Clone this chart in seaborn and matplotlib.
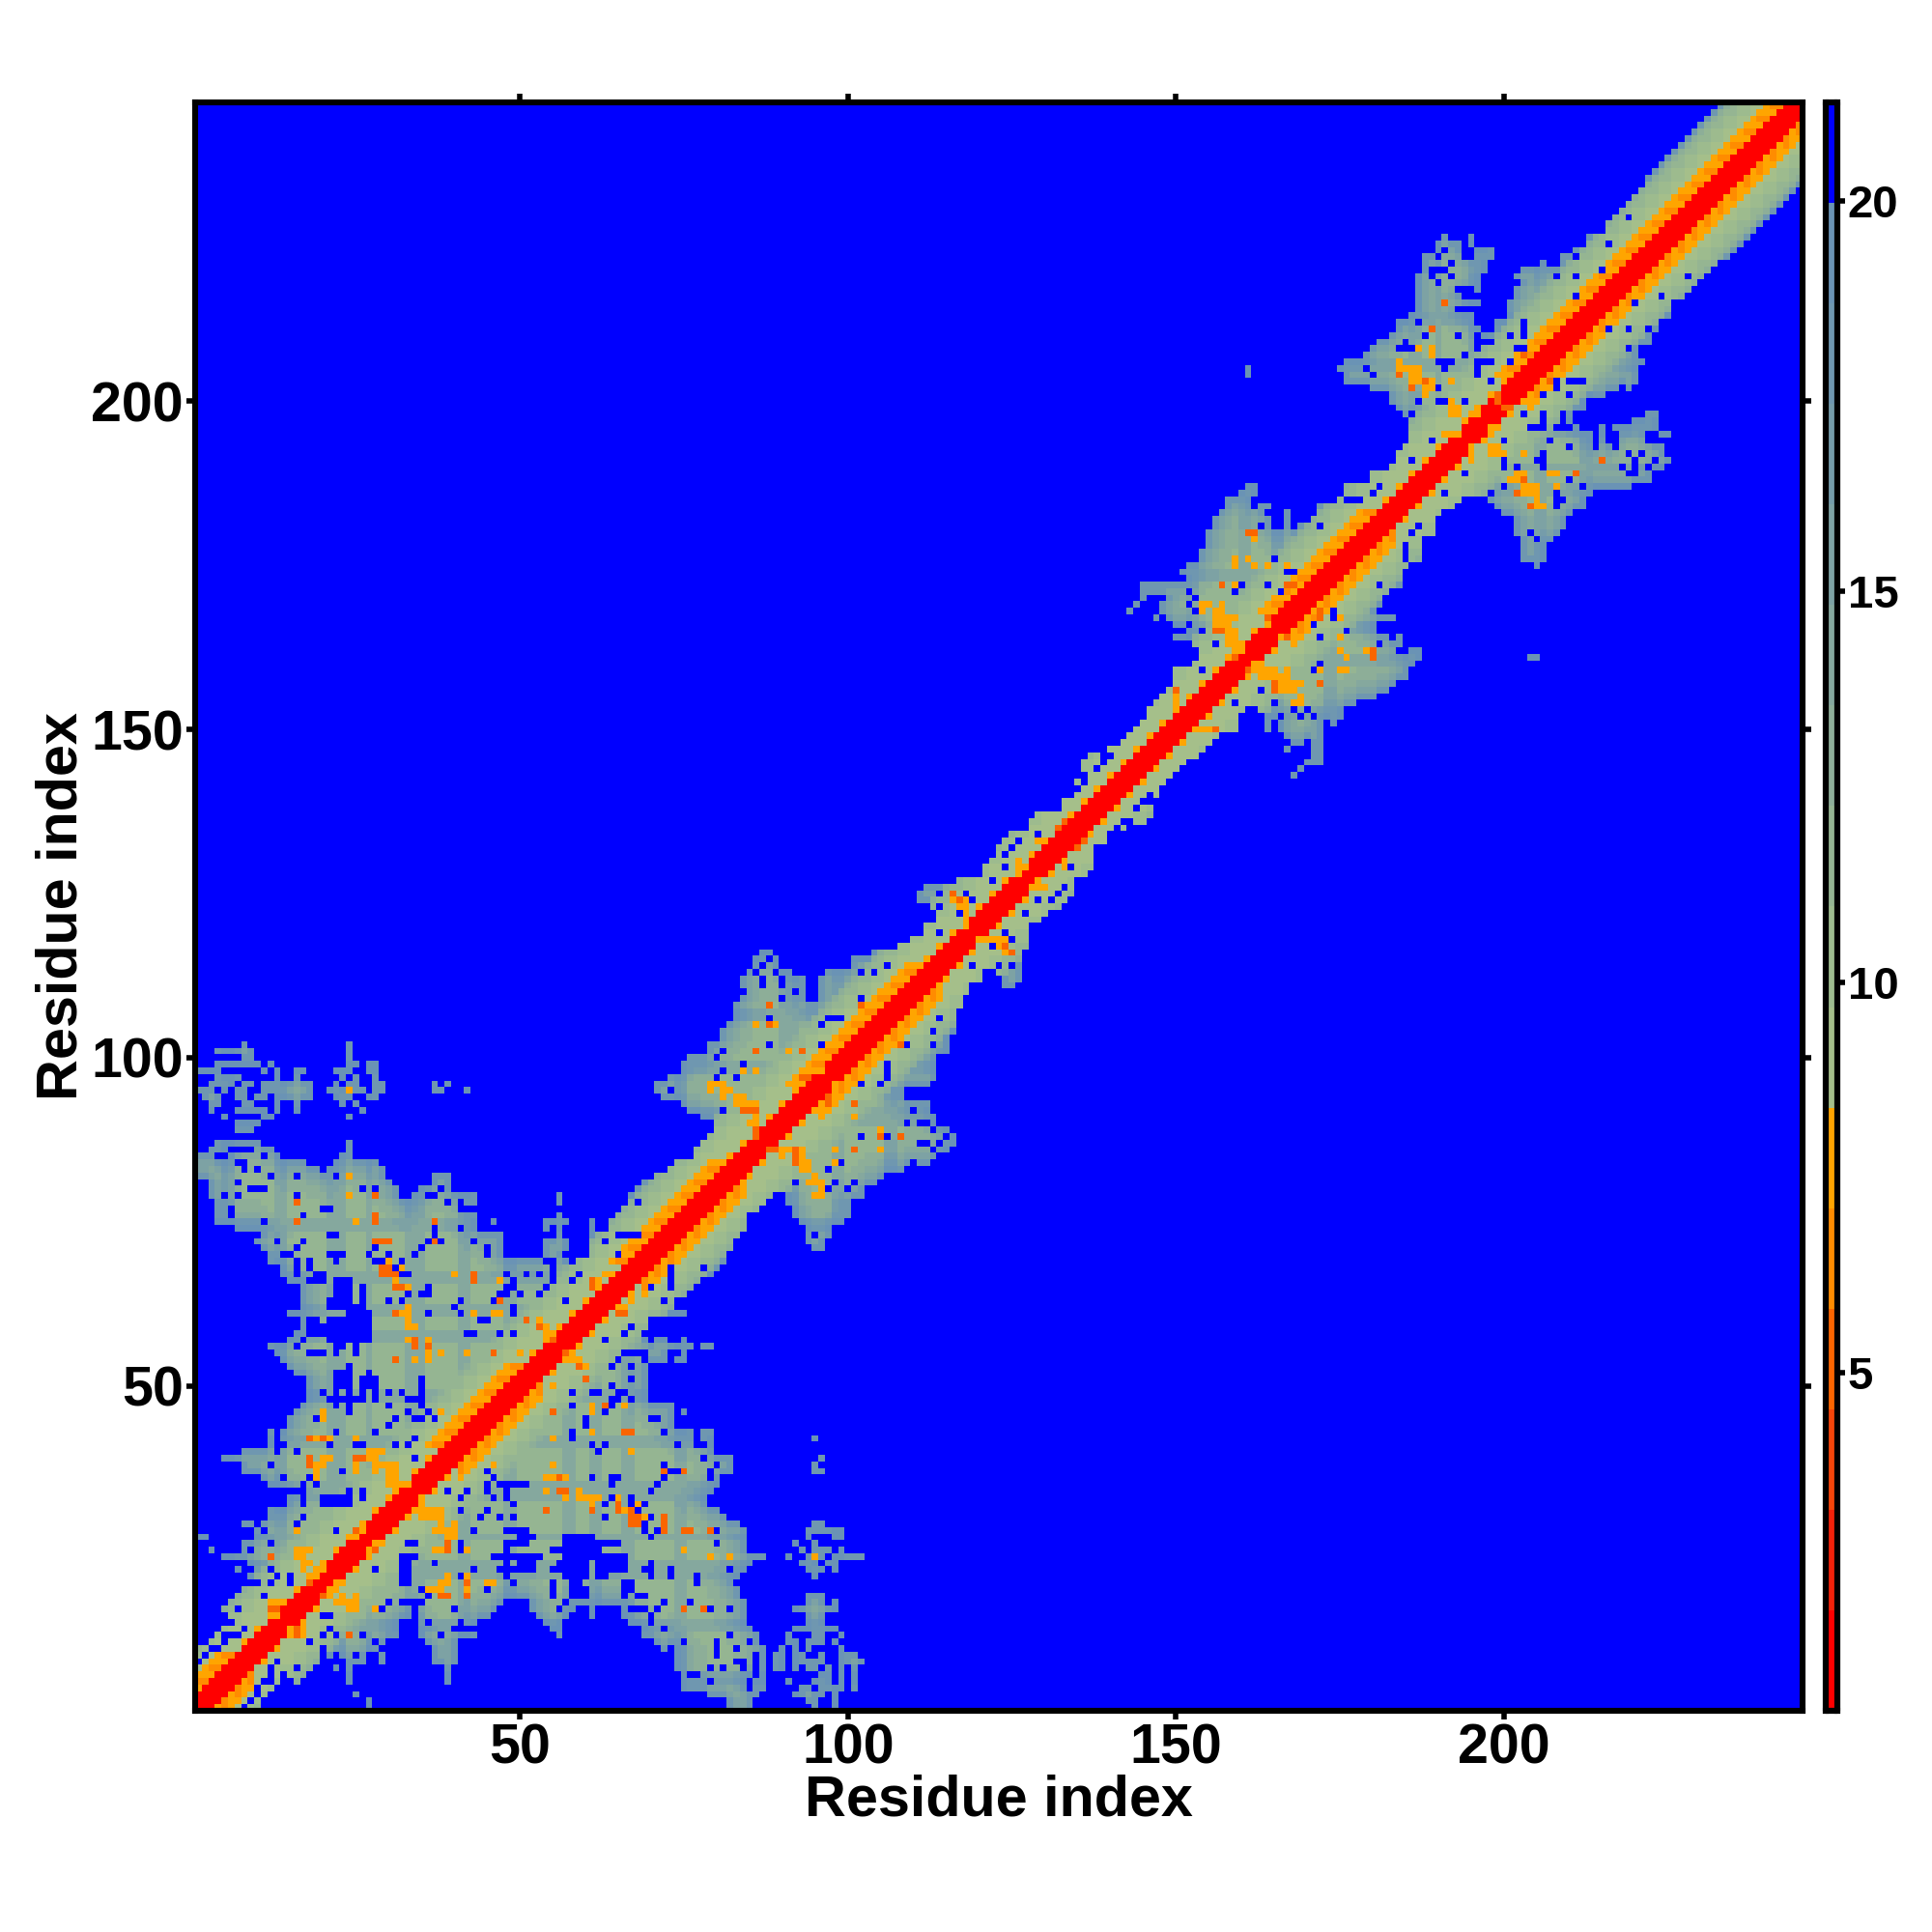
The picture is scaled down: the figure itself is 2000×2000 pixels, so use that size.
import numpy as np
import matplotlib
matplotlib.use("Agg")
import matplotlib.pyplot as plt
from matplotlib.colors import ListedColormap, BoundaryNorm
import seaborn as sns

sns.set_style("white")
plt.rcParams['font.family'] = ['Liberation Sans', 'DejaVu Sans']
plt.rcParams['font.weight'] = 'bold'
plt.rcParams['text.color'] = 'black'
plt.rcParams['axes.labelcolor'] = 'black'
plt.rcParams['xtick.color'] = 'black'
plt.rcParams['ytick.color'] = 'black'

N = 245
TICKS = [50, 100, 150, 200]
CBAR_TICKS = [5, 10, 15, 20]
LEVEL_COLORS = ["#ff0000", "#f2220a", "#f6450a", "#fa6500", "#ff8c00", "#ffa500",
                "#a5bf8a", "#9dbb8e", "#95b592", "#8dae98", "#85a89e", "#7da2a4",
                "#759caa", "#6f97b0", "#6a93b5", "#0000ff"]
CBAR_MIN, CBAR_MAX = 0.67, 21.26

NO_CONTACT = 20.6
RED, DARK, ORANGE, AMBER = 1.3, 5.2, 6.5, 7.8

# leftmost contact column for each row 1..245, band running to the diagonal
BAND_START = [1, 1, 1, 1, 1, 1, 1, 1, 1, 1, 3, 4, 5, 6, 6, 5, 6, 7, 8, 9,
              9, 7, 9, 5, 8, 8, 10, 10, 8, 12, 12, 15, 15, 14, 12, 11, 8, 8, 5, 8,
              12, 12, 12, 15, 15, 16, 17, 18, 18, 18, 18, 16, 15, 14, 13, 12, 15, 16, 17, 17,
              15, 17, 17, 17, 17, 15, 14, 14, 12, 61, 61, 61, 61, 64, 64, 65, 66, 67, 67, 68,
              69, 71, 73, 74, 77, 77, 78, 79, 80, 80, 78, 76, 75, 72, 71, 71, 73, 75, 75, 76,
              79, 79, 81, 81, 82, 83, 83, 83, 96, 96, 96, 96, 97, 101, 101, 104, 108, 110, 112, 112,
              114, 114, 113, 111, 111, 112, 117, 121, 121, 122, 123, 123, 124, 125, 127, 128, 129, 133, 133, 135,
              136, 135, 137, 136, 136, 137, 140, 142, 143, 144, 145, 146, 146, 147, 148, 149, 150, 150, 150, 153,
              154, 154, 153, 150, 152, 150, 149, 148, 148, 149, 145, 145, 152, 151, 152, 154, 154, 155, 155, 155,
              169, 171, 172, 172, 175, 176, 176, 180, 180, 183, 184, 184, 185, 186, 186, 186, 186, 185, 184, 183,
              183, 180, 176, 176, 175, 176, 179, 180, 181, 183, 199, 199, 201, 201, 201, 202, 202, 203, 202, 203,
              209, 209, 211, 213, 213, 216, 216, 217, 218, 219, 220, 221, 222, 222, 223, 224, 225, 226, 227, 228,
              229, 230, 231, 232, 233]

# pieces of contact not joined to the diagonal band: (row, first col, last col)
EXTRA_RUNS = [
    (25, 3, 3), (27, 1, 2), (2, 27, 27), (3, 25, 25),
    (70, 12, 47), (70, 54, 56), (71, 11, 47), (71, 54, 57), (72, 10, 47), (72, 54, 57),
    (73, 11, 47), (73, 56, 56), (74, 7, 43), (74, 54, 54), (74, 56, 56), (74, 61, 61),
    (75, 4, 43), (75, 46, 46), (75, 54, 57), (75, 61, 61), (76, 4, 43), (76, 56, 56),
    (77, 4, 43), (78, 4, 43), (78, 56, 56), (79, 3, 31), (79, 34, 43), (79, 56, 56),
    (80, 3, 31), (80, 35, 39), (81, 3, 30), (81, 37, 39), (82, 1, 29), (82, 37, 39),
    (83, 1, 19), (83, 21, 29), (84, 1, 17), (84, 22, 28), (85, 1, 3), (85, 6, 13),
    (85, 23, 24), (86, 3, 12), (86, 24, 24), (87, 4, 10), (87, 24, 24),
    (89, 7, 9), (90, 7, 10), (91, 5, 5), (91, 11, 12), (91, 24, 24), (92, 3, 3), (92, 7, 11),
    (92, 13, 13), (92, 16, 16), (92, 26, 26), (93, 3, 4), (93, 8, 9), (93, 13, 13), (93, 16, 16),
    (93, 23, 23), (93, 25, 25), (94, 2, 4), (94, 7, 8), (94, 10, 11), (94, 13, 18), (94, 22, 24),
    (94, 27, 28), (95, 1, 3), (95, 5, 5), (95, 7, 8), (95, 11, 18), (95, 21, 26), (95, 28, 29),
    (95, 37, 38), (95, 42, 42), (96, 3, 6), (96, 8, 9), (96, 11, 18), (96, 22, 22), (96, 24, 25),
    (96, 28, 29), (96, 37, 37), (96, 39, 39), (97, 4, 7), (97, 13, 13), (97, 16, 16), (97, 23, 23),
    (97, 25, 25), (97, 28, 28), (98, 1, 4), (98, 11, 11), (98, 13, 13), (98, 16, 17), (98, 22, 24),
    (98, 27, 28), (99, 4, 10), (99, 12, 12), (99, 24, 25), (99, 27, 28), (100, 8, 9), (100, 24, 24),
    (101, 4, 9), (101, 24, 24), (102, 8, 8), (102, 24, 24),
    (109, 84, 93), (110, 84, 93), (111, 84, 93), (112, 84, 93), (113, 85, 91), (114, 86, 89),
    (115, 86, 89), (116, 87, 88), (167, 147, 147), (168, 143, 143), (169, 144, 144), (170, 145, 145),
    (181, 156, 164), (181, 167, 167), (182, 156, 164), (182, 167, 167), (183, 157, 163), (183, 167, 167),
    (184, 158, 164), (185, 158, 161), (186, 160, 162), (187, 161, 162), (204, 161, 161), (205, 161, 161),
    (211, 184, 196), (212, 184, 195), (213, 186, 195), (214, 187, 193), (215, 187, 196), (216, 187, 193),
    (217, 187, 196), (218, 187, 196), (219, 187, 196), (220, 188, 197), (221, 188, 197), (221, 206, 206),
    (222, 188, 198), (223, 190, 193), (223, 196, 198), (224, 190, 193), (224, 195, 195), (225, 191, 191),
    (225, 195, 195),
]

# runs of empty cells inside the contact regions: (row, first col, last col)
EMPTY_RUNS = [
    (86, 6, 9), (83, 8, 8), (84, 7, 8), (80, 9, 11), (79, 36, 37), (77, 20, 21), (77, 41, 43),
    (73, 21, 22), (70, 14, 15), (70, 21, 23), (69, 28, 29), (67, 19, 20), (67, 32, 33), (66, 18, 20),
    (66, 22, 24), (65, 22, 24), (65, 48, 49), (64, 22, 24), (64, 35, 36), (64, 47, 48), (63, 21, 24),
    (62, 21, 26), (61, 24, 27), (60, 21, 27),
    (60, 18, 19), (60, 44, 45), (59, 18, 20), (59, 21, 27), (58, 18, 20), (58, 21, 27), (58, 42, 43),
    (57, 21, 24), (57, 25, 27), (56, 22, 23), (55, 18, 20), (48, 21, 23), (48, 33, 35), (41, 13, 14),
    (41, 25, 26), (35, 47, 51), (34, 14, 16), (33, 20, 24), (32, 20, 24), (28, 48, 51), (27, 50, 52),
    (26, 33, 34), (26, 48, 51), (24, 32, 34), (24, 46, 53), (23, 32, 33), (23, 50, 52),
    (22, 8, 9), (22, 32, 33), (22, 47, 52),
    (21, 32, 33), (17, 32, 34), (15, 20, 21), (13, 40, 42), (12, 5, 7), (10, 3, 4),
    (106, 97, 99), (209, 196, 198), (206, 196, 198), (208, 184, 186), (206, 190, 192), (217, 193, 195),
    (214, 193, 195), (196, 204, 206), (196, 208, 210), (185, 176, 178), (174, 167, 168), (203, 211, 212),
]

# single empty cells (col, row)
EMPTY_CELLS = [
    (5, 79), (7, 79), (7, 81), (10, 83), (11, 85), (12, 82), (16, 82), (22, 82), (26, 80), (28, 80), (38, 80),
    (16, 79), (39, 78), (41, 78), (6, 77), (6, 76), (17, 76), (11, 75), (37, 74), (41, 74), (37, 73),
    (13, 72), (17, 72), (36, 72), (38, 72), (43, 72), (16, 71), (28, 71), (35, 71), (45, 71), (27, 70),
    (30, 70), (34, 70), (45, 70), (16, 69), (18, 69), (22, 69), (32, 69), (16, 68), (18, 68), (31, 68),
    (16, 67), (48, 67), (51, 67), (49, 66), (26, 65), (36, 65), (26, 64), (33, 64), (50, 64), (26, 63),
    (30, 63), (32, 63), (41, 63), (46, 63), (40, 62), (49, 62), (36, 61), (41, 61), (49, 61), (47, 58),
    (49, 58), (17, 57), (16, 56), (25, 56), (22, 55), (25, 55),
    (20, 49), (30, 49), (32, 49), (25, 48), (24, 47), (30, 47), (33, 46), (36, 46), (19, 45), (31, 45),
    (35, 45), (37, 45), (30, 44), (13, 43), (22, 43), (28, 43), (34, 42), (21, 41), (31, 41), (33, 41),
    (13, 40), (16, 40), (34, 39), (12, 38), (23, 37), (45, 37), (14, 36), (18, 36), (32, 36), (46, 36),
    (17, 35), (19, 35), (45, 35), (24, 34), (26, 34), (39, 34), (42, 34), (45, 34), (48, 34), (17, 33),
    (26, 33), (41, 33), (46, 33), (17, 32), (36, 32), (49, 32), (41, 31), (45, 31), (17, 30), (44, 30),
    (47, 30), (49, 30), (10, 29), (16, 29), (22, 28), (43, 28), (12, 26), (41, 26), (9, 25), (21, 25),
    (41, 25), (37, 23), (12, 22), (28, 22), (43, 22), (13, 21), (15, 21), (25, 21), (41, 21), (12, 20),
    (15, 20), (49, 20), (35, 19), (45, 19), (11, 18), (36, 18), (30, 17), (35, 17), (7, 16), (29, 16),
    (34, 16), (40, 16), (34, 15), (36, 14), (41, 14), (8, 13), (21, 13), (43, 13), (20, 12), (22, 12),
    (26, 12), (38, 12), (5, 11), (18, 11), (28, 11), (6, 10), (20, 10), (29, 10), (2, 9), (20, 9),
    (1, 8), (13, 8), (20, 8), (12, 7), (16, 7), (10, 6), (12, 6), (14, 6), (11, 5),
    (68, 78), (65, 73), (66, 73), (67, 73), (68, 73), (69, 73), (63, 72), (65, 70), (58, 69), (54, 69),
    (51, 67), (53, 67), (55, 66), (55, 67), (55, 68), (55, 69), (58, 66), (59, 67), (64, 68), (54, 65),
    (53, 64), (57, 63), (50, 64), (70, 65), (73, 65), (68, 64), (72, 63), (73, 67), (73, 68), (73, 69),
    (74, 70), (74, 71), (78, 68), (70, 74), (71, 74), (68, 73), (72, 63),
    (88, 115), (87, 114), (86, 113), (89, 113), (87, 111), (87, 112), (90, 111), (90, 112), (92, 110), (84, 110),
    (90, 109), (102, 109), (104, 113), (106, 114), (88, 106), (96, 105), (88, 102), (96, 102), (81, 101),
    (80, 100), (84, 99), (81, 98), (80, 97), (83, 97), (73, 95), (81, 92), (89, 92), (87, 90), (84, 88),
    (102, 109), (104, 113), (102, 113), (106, 98), (106, 97), (96, 102), (96, 105), (102, 96), (105, 96),
    (92, 110), (109, 118), (114, 119), (92, 89), (90, 87), (102, 88), (106, 88), (88, 84), (99, 84), (97, 83),
    (92, 81), (98, 81), (101, 81), (97, 80), (100, 80), (95, 73), (109, 102), (113, 104), (110, 92), (109, 90),
    (111, 90), (112, 90), (113, 89), (115, 88), (111, 87), (112, 87), (114, 87), (113, 86),
    (154, 159), (156, 163), (154, 165), (141, 145), (139, 146), (138, 144), (137, 141), (136, 140), (135, 139),
    (134, 138), (133, 137), (131, 135), (130, 134), (127, 135), (125, 132), (127, 131), (126, 133), (129, 134),
    (124, 129), (118, 125), (114, 125), (114, 123), (117, 122), (113, 122), (114, 119), (145, 141), (141, 137),
    (142, 136), (140, 136), (138, 134), (136, 132), (134, 130), (132, 128), (131, 127), (132, 125), (129, 124),
    (131, 124), (127, 122), (124, 119), (146, 140), (145, 139),
    (162, 184), (163, 181), (172, 181), (181, 187), (180, 186), (178, 185), (165, 176), (160, 172), (164, 172),
    (159, 171), (166, 171), (152, 171), (153, 170), (152, 169), (153, 168), (171, 166), (174, 167), (174, 168),
    (176, 165), (154, 165), (172, 164), (156, 163), (181, 163), (184, 162), (172, 160), (171, 159), (154, 159),
    (181, 172), (186, 180), (187, 181), (185, 177), (185, 178), (163, 156), (159, 154), (165, 154), (168, 153),
    (170, 153), (166, 152), (169, 152), (171, 152), (191, 188), (191, 186),
    (191, 223), (194, 222), (195, 222), (194, 223), (195, 223), (190, 222), (192, 221), (189, 220), (191, 220),
    (192, 219), (189, 219), (190, 218), (187, 212), (188, 210), (193, 210), (185, 209), (194, 207), (191, 205),
    (179, 205), (180, 204), (190, 202), (187, 200), (190, 200), (191, 200), (194, 200), (195, 199), (186, 198),
    (196, 208), (196, 205), (201, 206), (203, 210), (203, 211), (201, 210), (203, 206), (202, 208), (203, 208),
    (198, 203), (198, 201), (201, 198), (203, 198), (206, 203), (208, 202), (208, 203), (206, 201), (210, 201),
    (208, 219), (211, 219), (211, 222), (213, 217), (214, 218), (215, 220), (216, 224), (219, 228), (211, 216),
    (218, 214), (217, 213), (216, 211), (219, 211), (224, 216), (228, 219), (222, 211), (219, 208),
    (206, 198), (206, 197), (209, 197), (209, 198), (199, 195), (200, 194), (207, 194), (210, 193), (206, 192),
    (205, 191), (206, 191), (200, 190), (200, 191), (194, 189), (194, 190), (194, 191), (202, 190), (206, 190),
    (219, 192), (221, 192), (220, 190), (220, 191), (223, 191), (222, 190), (218, 190), (210, 188), (212, 187),
    (200, 187), (208, 184), (208, 185), (208, 186), (209, 185), (198, 186), (191, 188), (191, 186), (180, 186),
    (181, 187), (187, 181), (186, 180), (185, 177), (185, 178), (204, 180), (205, 179),
]

# deep orange cells (col, row)
DARK_CELLS = [
    (28, 79), (16, 78), (16, 75), (28, 75), (28, 76), (37, 75), (28, 72), (29, 72), (30, 72), (37, 72),
    (29, 68), (30, 68), (29, 67), (30, 67), (31, 67), (31, 65), (32, 65), (43, 66), (43, 67), (47, 63),
    (31, 61), (51, 60), (34, 56), (34, 57), (36, 56), (46, 55), (31, 54),
    (18, 42), (20, 42), (18, 38), (18, 39), (25, 39), (26, 39), (25, 28), (12, 24), (18, 20), (12, 16), (13, 16),
    (88, 108), (88, 105), (86, 101), (93, 101), (93, 97), (94, 97), (102, 108), (84, 92), (85, 92), (86, 92),
    (86, 89), (86, 88), (61, 66), (61, 65),
    (161, 180), (162, 180), (157, 172), (167, 172), (168, 172), (164, 167), (159, 161), (156, 165), (157, 165),
    (116, 125), (117, 124), (132, 135), (133, 136), (150, 156),
    (191, 215), (189, 211), (199, 201), (199, 200), (203, 207), (184, 204), (186, 202), (188, 203),
    (53, 59), (55, 57),
]

# amber cells (col, row)
AMBER_CELLS = [
    (24, 95), (24, 82), (24, 79), (25, 75), (30, 69), (32, 68), (31, 66), (33, 65), (40, 67), (47, 66), (33, 62),
    (32, 61), (33, 61), (33, 60), (33, 59), (34, 59), (43, 61), (46, 61), (47, 61), (33, 57), (36, 57),
    (36, 54), (36, 55), (38, 55), (42, 55), (50, 55), (34, 54),
    (20, 45), (20, 46), (19, 42), (21, 42), (25, 42), (27, 40), (28, 40), (29, 40), (27, 39), (28, 39),
    (19, 38), (20, 38), (20, 39), (21, 39), (25, 37), (25, 38), (28, 38), (29, 38), (30, 38), (31, 38),
    (28, 37), (30, 37), (31, 37), (19, 36), (19, 37), (30, 36), (31, 36), (30, 35), (31, 35), (32, 35),
    (33, 35), (31, 34), (38, 46), (26, 28), (25, 27), (16, 28), (16, 25), (17, 25), (18, 25), (16, 24),
    (17, 24), (17, 23), (18, 23), (17, 22), (19, 22), (20, 22), (18, 21), (19, 21), (12, 17), (13, 17), (14, 17), (13, 15),
    (86, 105), (89, 105), (91, 101), (84, 98), (86, 98), (93, 98), (94, 98), (95, 98), (96, 98),
    (79, 96), (80, 96), (81, 96), (79, 95), (81, 95), (82, 95), (81, 94), (83, 94), (84, 94), (83, 93),
    (84, 93), (85, 93), (86, 93), (86, 91), (85, 90), (86, 90), (105, 108), (62, 66), (62, 65), (63, 67), (64, 67),
    (162, 179), (159, 176), (159, 175), (161, 176), (162, 175), (164, 175), (167, 175), (159, 172), (168, 171),
    (154, 169), (155, 169), (157, 169), (154, 168), (156, 168), (157, 168), (156, 167), (157, 167), (158, 167),
    (159, 167), (156, 166), (157, 166), (158, 166), (158, 165), (159, 165), (158, 164), (159, 164), (158, 163),
    (159, 163), (160, 163), (159, 162), (160, 162), (164, 166),
    (116, 124), (118, 124), (117, 123), (118, 123), (118, 122), (118, 121), (118, 120), (126, 128), (127, 129),
    (126, 130), (129, 133), (130, 133), (150, 155), (150, 154),
    (187, 208), (189, 208), (189, 207), (184, 206), (184, 205), (185, 205), (186, 205), (187, 205), (186, 204),
    (187, 204), (186, 203), (187, 203), (189, 203), (192, 203), (188, 202), (189, 202), (188, 201), (192, 200),
    (192, 199), (193, 199), (192, 198), (193, 198), (195, 198), (196, 198), (191, 195), (192, 195), (193, 195),
    (53, 60), (54, 59), (54, 58), (55, 58),
]

# residues whose rows and columns read bluer than their surroundings
BLUER_RESIDUES = [5, 6, 13, 14, 21, 22, 23, 27, 33, 34, 35, 41, 42, 48, 49, 57, 58, 61, 62, 66, 67, 74, 75,
                  90, 91, 92, 98, 99, 106, 107, 115, 116, 152, 153, 160, 161, 165, 166, 173, 174,
                  186, 187, 190, 195, 196, 197, 205, 206, 212, 213]

# residue stretches where the band beside the red diagonal is wide and orange
HELIX_RANGES = [(1, 9), (41, 53), (69, 84), (96, 114), (168, 183), (204, 245)]

# colour value against distance from the diagonal: two entries alternate along the band
OFFSET_VALUES = {0: (RED, RED), 1: (RED, RED), 2: (RED, RED), 3: (AMBER, 9.1), 4: (9.1, 9.1), 5: (9.1, 9.1),
                 6: (9.1, 9.1), 7: (9.1, 10.4), 8: (10.4, 10.4), 9: (10.4, 11.7), 10: (11.7, 11.7), 11: (13.0, 13.0)}
HELIX_VALUES = {3: (ORANGE, AMBER), 4: (AMBER, ORANGE), 5: (AMBER, AMBER)}
# colour value against depth inside the contact region
EDGE_VALUES = [17.5, 15.5, 14.0, 13.0, 12.5, 11.7]
BLUER_SHIFT = 2.6


def erode(mask):
    inner = mask.copy()
    inner[1:, :] &= mask[:-1, :]
    inner[:-1, :] &= mask[1:, :]
    inner[:, 1:] &= mask[:, :-1]
    inner[:, :-1] &= mask[:, 1:]
    return inner


def put(matrix, col, row, value):
    matrix[row - 1, col - 1] = value
    matrix[col - 1, row - 1] = value


def build_matrix():
    mask = np.zeros((N, N), dtype=bool)
    for row, start in enumerate(BAND_START, 1):
        mask[row - 1, start - 1:row] = True
    for row, first, last in EXTRA_RUNS:
        mask[row - 1, first - 1:last] = True
    mask = mask | mask.T

    depth = np.zeros((N, N), dtype=int)
    layer = mask.copy()
    for _ in range(len(EDGE_VALUES) - 1):
        layer = erode(layer)
        depth += layer

    matrix = np.full((N, N), NO_CONTACT)
    for row in range(1, N + 1):
        for col in range(1, row + 1):
            if not mask[row - 1, col - 1]:
                continue
            d = row - col
            value = EDGE_VALUES[depth[row - 1, col - 1]]
            if col in BLUER_RESIDUES or row in BLUER_RESIDUES:
                value = min(value + BLUER_SHIFT, 19.0)
            if d in OFFSET_VALUES:
                value = min(value, OFFSET_VALUES[d][col % 2])
            if d in HELIX_VALUES and any(a <= row <= b for a, b in HELIX_RANGES):
                value = HELIX_VALUES[d][col % 2]
            put(matrix, col, row, value)

    for row, first, last in EMPTY_RUNS:
        for col in range(first, last + 1):
            if abs(row - col) > 4:
                put(matrix, col, row, NO_CONTACT)
    for col, row in EMPTY_CELLS:
        if abs(row - col) > 4:
            put(matrix, col, row, NO_CONTACT)
    for col, row in AMBER_CELLS:
        put(matrix, col, row, AMBER)
    for col, row in DARK_CELLS:
        put(matrix, col, row, DARK)
    return matrix


def px_box(left, top, right, bottom):
    return [left / 2000, 1 - bottom / 2000, (right - left) / 2000, (bottom - top) / 2000]


matrix = build_matrix()
bounds = np.linspace(CBAR_MIN, CBAR_MAX, len(LEVEL_COLORS) + 1)
cmap = ListedColormap(LEVEL_COLORS)
norm = BoundaryNorm(bounds, cmap.N)

fig = plt.figure(figsize=(10, 10), dpi=200)
ax = fig.add_axes(px_box(202, 106, 1866, 1771))
cax = fig.add_axes(px_box(1889.5, 106, 1901.5, 1771))

sns.heatmap(matrix, ax=ax, cbar_ax=cax, cmap=cmap, norm=norm, square=False,
            xticklabels=False, yticklabels=False, linewidths=0,
            cbar_kws={'ticks': CBAR_TICKS, 'spacing': 'proportional', 'drawedges': False})
ax.invert_yaxis()

ax.set_xticks([t - 0.5 for t in TICKS])
ax.set_xticklabels(TICKS, fontsize=20.6, fontweight='bold')
ax.set_yticks([t - 0.5 for t in TICKS])
ax.set_yticklabels(TICKS, fontsize=20.6, fontweight='bold', rotation=0)
ax.tick_params(axis='both', which='major', length=3.4, width=2.0, color='black', pad=1,
               top=True, right=True, bottom=True, left=True)
ax.set_xlabel("Residue index", fontsize=21.4, fontweight='bold', va='center')
ax.set_ylabel("Residue index", fontsize=21.4, fontweight='bold', va='center')
ax.xaxis.set_label_coords(0.5, -0.056)
ax.yaxis.set_label_coords(-0.083, 0.5)

for a in (ax, cax):
    for spine in a.spines.values():
        spine.set_visible(True)
        spine.set_linewidth(2.2)
        spine.set_color('black')
        spine.set_joinstyle('round')
        spine.set_zorder(5)

cax.set_ylim(CBAR_MIN, CBAR_MAX)
cax.minorticks_off()
cax.tick_params(axis='y', which='minor', length=0)
cax.tick_params(axis='y', which='major', right=True, left=False, length=3.0, width=2.0, color='black',
                pad=1, labelsize=17)
for label in cax.get_yticklabels():
    label.set_fontweight('bold')

fig.savefig("out.png", dpi=200)
